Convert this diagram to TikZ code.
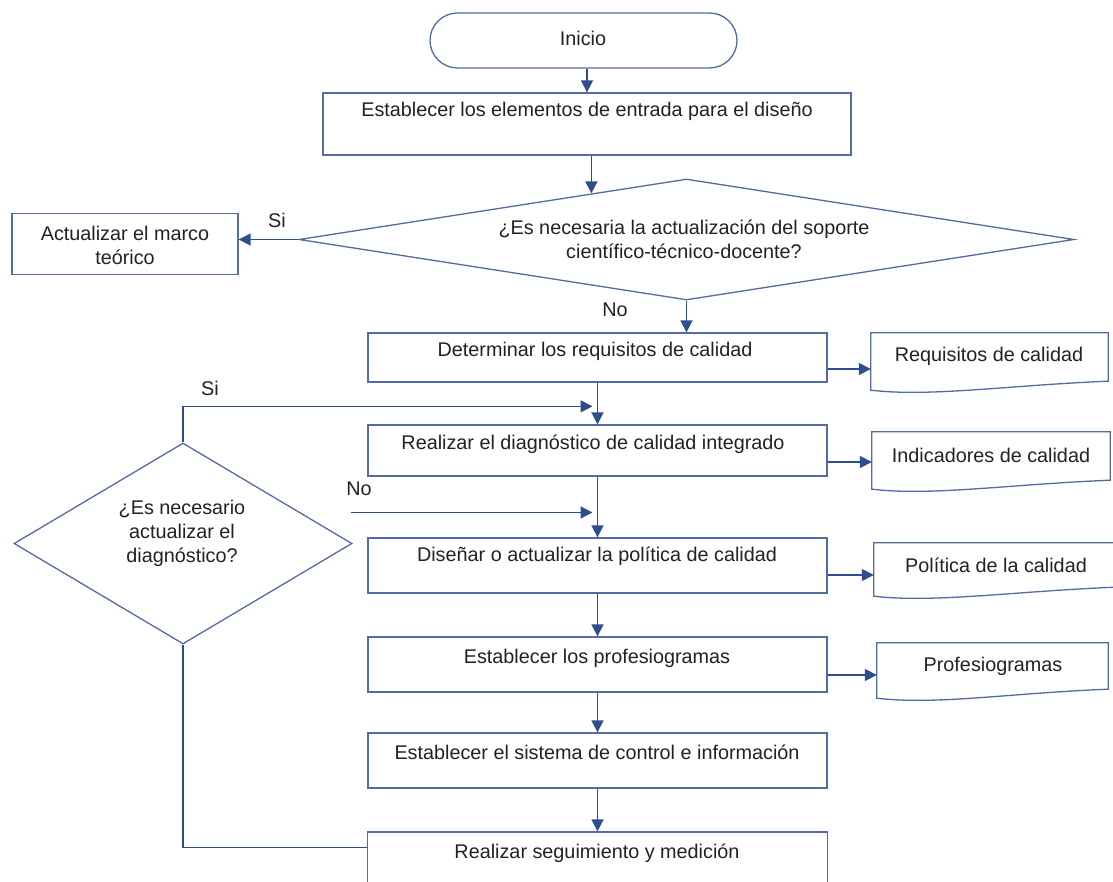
\documentclass[tikz,border=0pt]{standalone}
\usepackage{fontspec}
\setmainfont{Liberation Sans}
\usetikzlibrary{arrows.meta,shapes.geometric,shapes.misc,calc}
\definecolor{arrowblue}{RGB}{47,77,140}
\definecolor{edgeblue}{RGB}{84,106,162}
\definecolor{txt}{RGB}{34,34,34}
\newcommand\docpath[1]{%
  \draw[edgeblue,line width=1.3pt] (#1.north west) -- (#1.north east) -- (#1.south east)
    .. controls ($(#1.south east)+(-100,4)$) and ($(#1.south west)+(60,16)$) ..
    ($(#1.south west)+(0,9)$) -- cycle;}
\begin{document}
\begin{tikzpicture}[x=1pt,y=-1pt,
  box/.style={draw=edgeblue,line width=1.3pt,rectangle,inner sep=0pt},
  docbox/.style={draw=none,rectangle,inner sep=0pt},
  dia/.style={draw=edgeblue,line width=1.3pt,diamond,inner sep=0pt},
  lbl/.style={text=txt,font=\fontsize{19.8}{24}\selectfont,inner sep=0pt,align=center},
  arr/.style={draw=arrowblue,line width=1.6pt,-{Triangle[width=12pt,length=12pt]}},
  ln/.style={draw=arrowblue,line width=1.6pt}]
\clip (0,0) rectangle (1113,882);
\fill[white] (0,0) rectangle (1113,882);

% start
\node[box,rounded rectangle,minimum width=307pt,minimum height=55pt] (ini) at (583.5,40.5) {};
\node[lbl] (tini) at (583,38) {Inicio};

% box 1
\node[box,minimum width=528pt,minimum height=62pt] (b1) at (587,124) {};
\node[lbl] (tb1) at (587,111) {Establecer los elementos de entrada para el diseño};

% decision 1
\node[dia,minimum width=775pt,minimum height=121pt] (q1) at (686.5,239.5) {};
\node[lbl] (tq1) at (684,239) {¿Es necesaria la actualización del soporte\\científico-técnico-docente?};

% update box
\node[box,minimum width=226pt,minimum height=61pt] (act) at (125,244) {};
\node[lbl] (tact) at (125,245) {Actualizar el marco\\teórico};

% main boxes
\node[box,minimum width=459pt,minimum height=49pt] (b2) at (597.5,357.5) {};
\node[lbl] (tb2) at (595,351) {Determinar los requisitos de calidad};
\node[box,minimum width=459pt,minimum height=51pt] (b3) at (597.5,450.5) {};
\node[lbl] (tb3) at (593,444) {Realizar el diagnóstico de calidad integrado};
\node[box,minimum width=459pt,minimum height=55pt] (b4) at (597.5,565.5) {};
\node[lbl] (tb4) at (597,556) {Diseñar o actualizar la política de calidad};
\node[box,minimum width=459pt,minimum height=55pt] (b5) at (597.5,664.5) {};
\node[lbl] (tb5) at (597,658) {Establecer los profesiogramas};
\node[box,minimum width=459pt,minimum height=55pt] (b6) at (597.5,760.5) {};
\node[lbl] (tb6) at (597,752) {Establecer el sistema de control e información};
\node[box,minimum width=460pt,minimum height=60pt] (b7) at (597.5,862) {};
\node[lbl] (tb7) at (597,853) {Realizar seguimiento y medición};

% decision 2
\node[dia,minimum width=338pt,minimum height=201pt] (q2) at (183,543.5) {};
\node[lbl] (tq2) at (182,533) {¿Es necesario\\actualizar el\\diagnóstico?};

% documents
\node[docbox,minimum width=237pt,minimum height=48pt] (d1) at (989.5,357) {};
\docpath{d1}
\node[lbl] (td1) at (989,356) {Requisitos de calidad};
\node[docbox,minimum width=238pt,minimum height=48pt] (d2) at (991,456) {};
\docpath{d2}
\node[lbl] (td2) at (991,455) {Indicadores de calidad};
\node[docbox,minimum width=241pt,minimum height=44pt] (d3) at (994.5,565) {};
\docpath{d3}
\node[lbl] (td3) at (996,565) {Política de la calidad};
\node[docbox,minimum width=231pt,minimum height=46pt] (d4) at (992.5,666) {};
\docpath{d4}
\node[lbl] (td4) at (993,666) {Profesiogramas};

% labels
\node[lbl] (si1) at (277,220) {Si};
\node[lbl] (no1) at (615,310) {No};
\node[lbl] (si2) at (210,388) {Si};
\node[lbl] (no2) at (359,489) {No};

% connectors
\draw[arr] (ini.south -| b1.north) -- (b1.north);
\coordinate (p1) at ($(q1.west)!0.755!(q1.north)$);
\draw[arr] (b1.south -| p1) -- (p1);
\draw[arr] (q1.west) -- (q1.west -| act.east);
\draw[arr] (q1.south) -- (q1.south |- b2.north);
\draw[arr] (b2.south) -- (b3.north);
\draw[arr] (b3.south) -- (b4.north);
\draw[arr] (b4.south) -- (b5.north);
\draw[arr] (b5.south) -- (b6.north);
\draw[arr] (b6.south) -- (b7.north);

\draw[arr] ($(b2.east)+(0,11.5)$) -- ($(d1.west |- b2.east)+(0,11.5)$);
\draw[arr] ($(b3.east)+(0,11.5)$) -- ($(d2.west |- b3.east)+(0,11.5)$);
\draw[arr] ($(b4.east)+(0,9.5)$) -- ($(d3.west |- b4.east)+(0,9.5)$);
\draw[arr] ($(b5.east)+(0,10.5)$) -- ($(d4.west |- b5.east)+(0,10.5)$);

\coordinate (siend) at ($(b3.north)+(-5,-18)$);
\draw[arr] (q2.north) |- (siend);
\coordinate (nostart) at ($(q2.east)+(-2,-31)$);
\coordinate (noend) at ($(b4.north)+(-5,-26)$);
\draw[arr] (nostart) -- (nostart -| noend);
\draw[ln] ($(b7.north west)+(0,16)$) -| (q2.south);
\end{tikzpicture}
\end{document}
